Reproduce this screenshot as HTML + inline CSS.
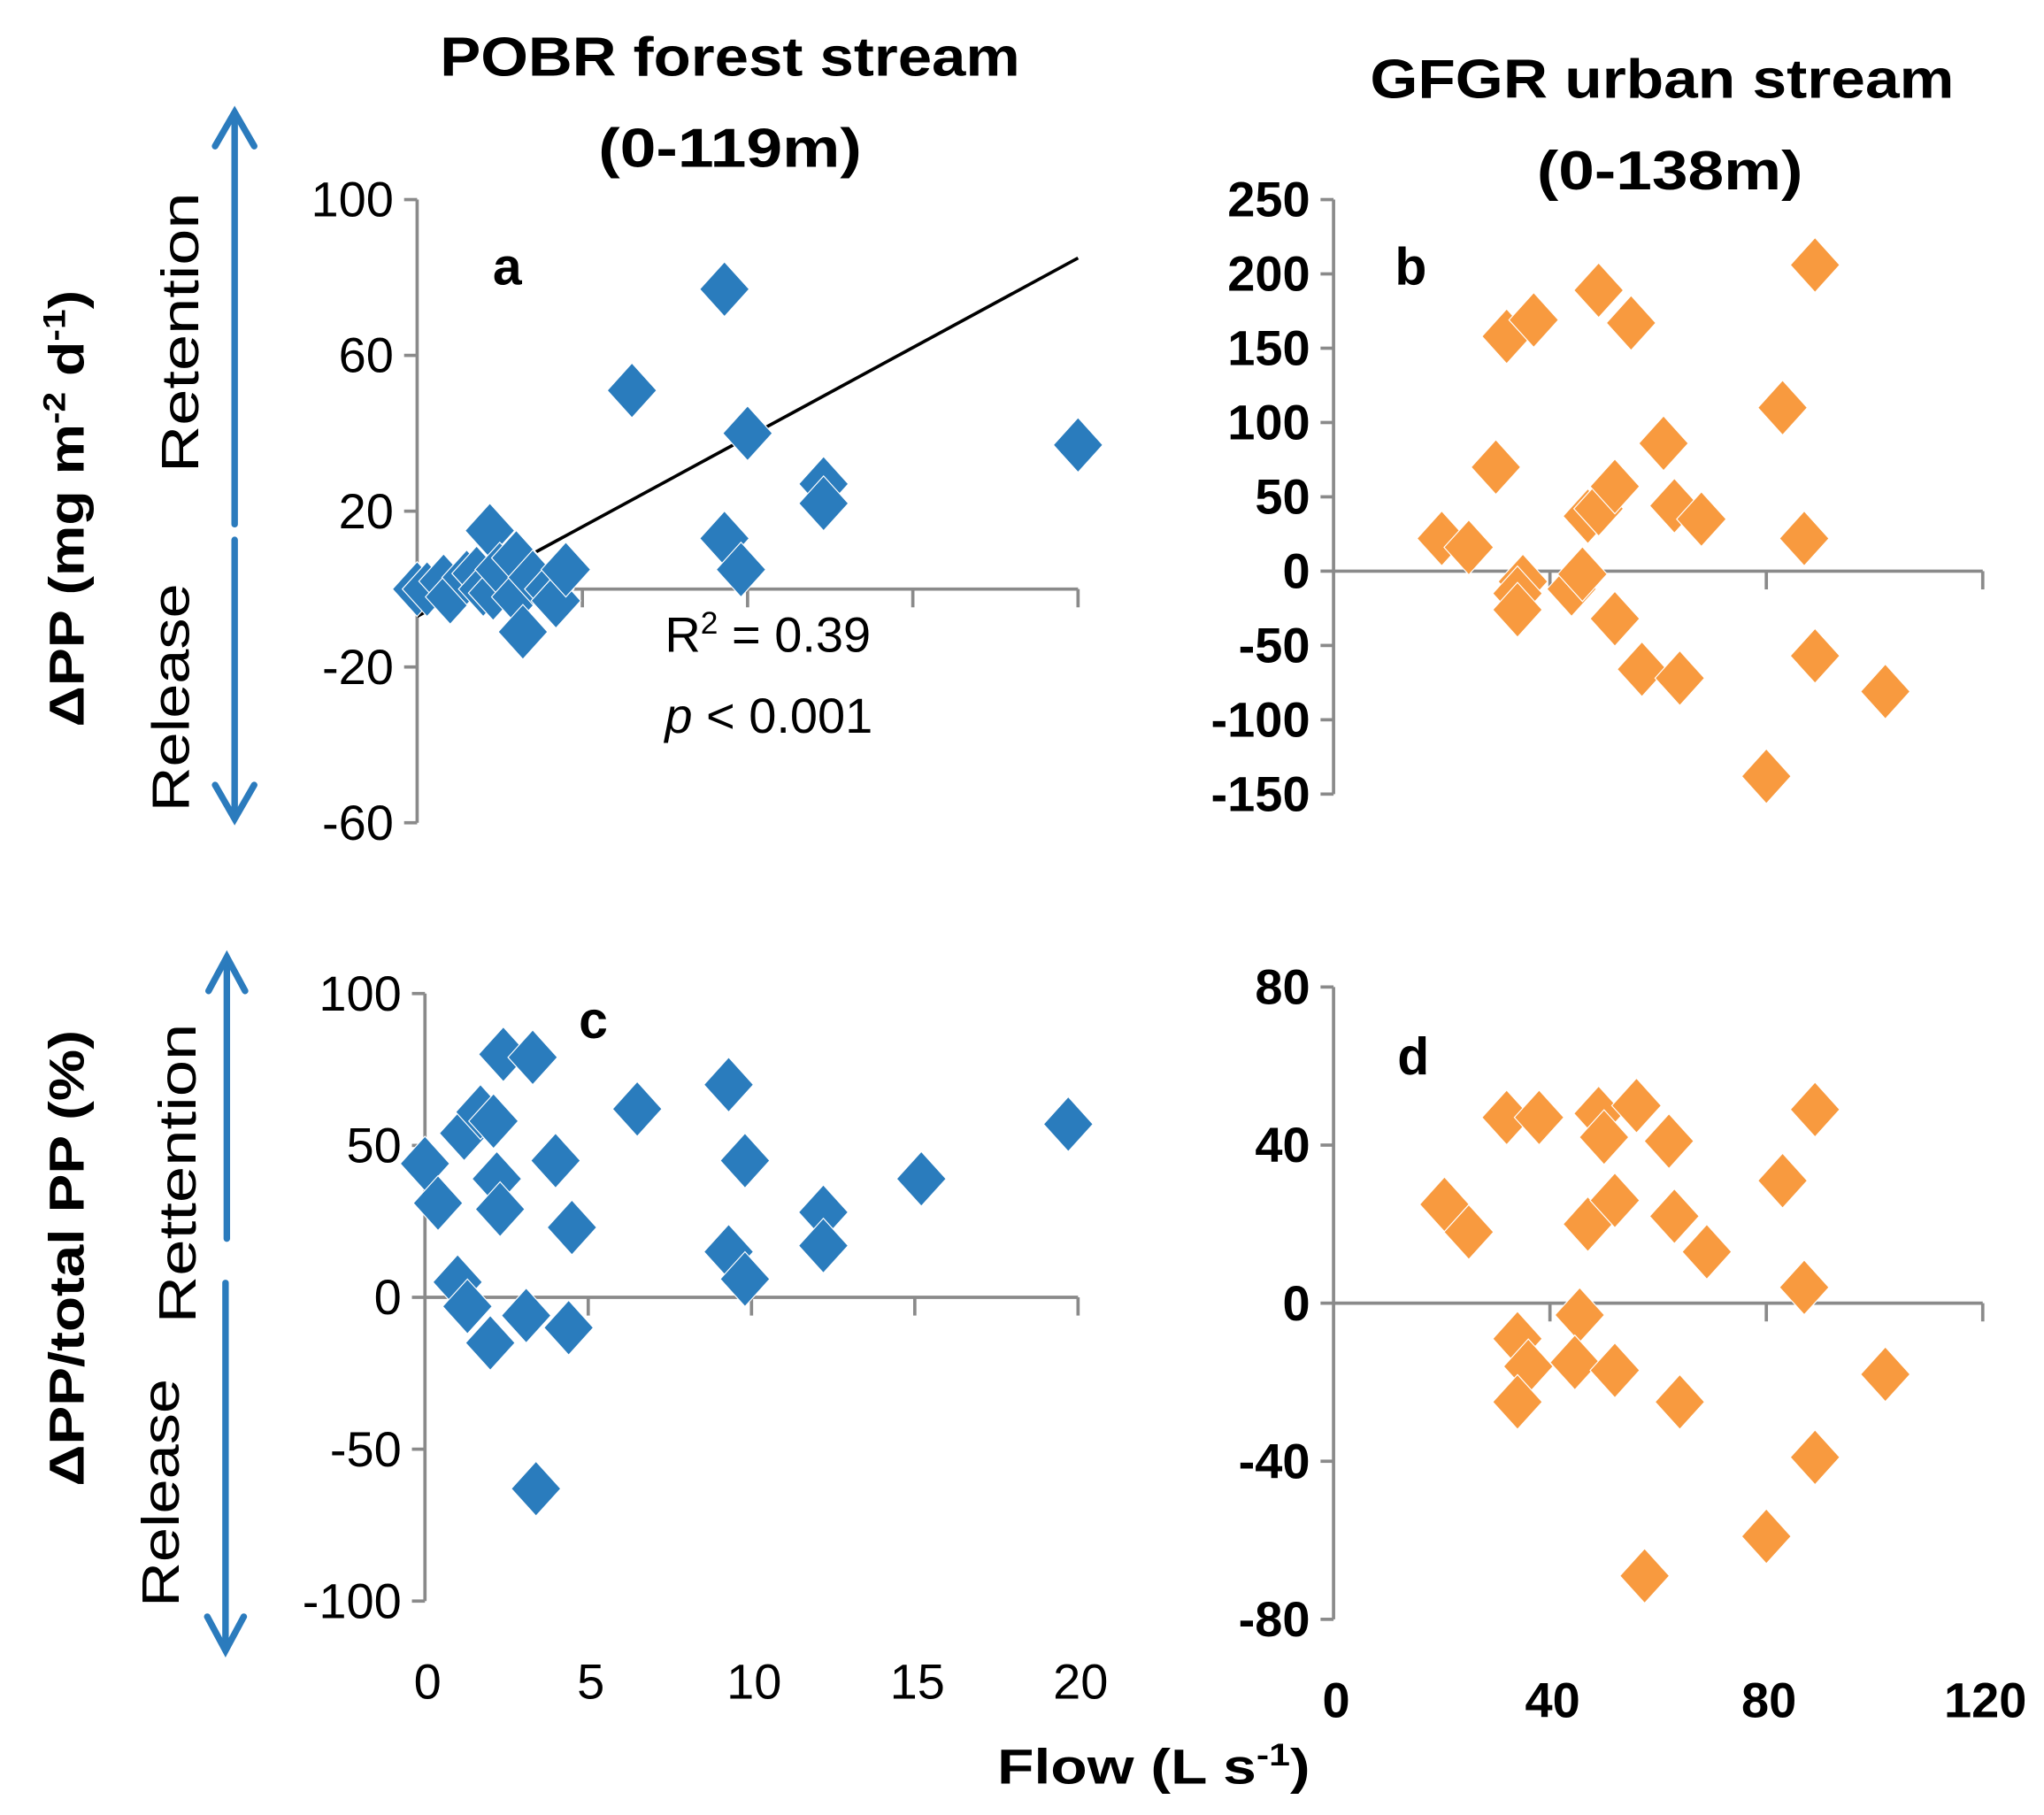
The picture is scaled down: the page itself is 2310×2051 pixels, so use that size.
<!DOCTYPE html>
<html><head><meta charset="utf-8"><style>
html,body{margin:0;padding:0;background:#fff}
svg{display:block}
text{font-family:"Liberation Sans",sans-serif;fill:#000}
</style></head><body>
<svg id="fig" width="2310" height="2051" viewBox="0 0 1568 1392" xmlns="http://www.w3.org/2000/svg">
<g font-weight="bold" font-size="42" text-anchor="middle">
<text x="560" y="58" textLength="445" lengthAdjust="spacingAndGlyphs">POBR forest stream</text>
<text x="560" y="128" textLength="202" lengthAdjust="spacingAndGlyphs">(0-119m)</text>
<text x="1275" y="75" textLength="448" lengthAdjust="spacingAndGlyphs">GFGR urban stream</text>
<text x="1281" y="145" textLength="204" lengthAdjust="spacingAndGlyphs">(0-138m)</text>
</g>
<g stroke="#2b7bbd" stroke-width="5" fill="none" stroke-linecap="round">
<line x1="180" y1="88" x2="180" y2="402"/><line x1="180" y1="414" x2="180" y2="624"/>
<polyline points="165,112 180,86 195,112"/><polyline points="165,602 180,628 195,602"/>
<line x1="174" y1="736" x2="174" y2="950"/><line x1="173" y1="984" x2="173" y2="1262"/>
<polyline points="160,760 174,734 188,760"/><polyline points="159,1240 173,1266 187,1240"/>
</g>
<g font-size="40" text-anchor="middle">
<text transform="translate(152,255) rotate(-90)" textLength="215" lengthAdjust="spacingAndGlyphs">Retention</text>
<text transform="translate(145,535) rotate(-90)" textLength="175" lengthAdjust="spacingAndGlyphs">Release</text>
<text transform="translate(150,900) rotate(-90)" textLength="230" lengthAdjust="spacingAndGlyphs">Rettention</text>
<text transform="translate(137,1145) rotate(-90)" textLength="175" lengthAdjust="spacingAndGlyphs">Release</text>
<text font-weight="bold" font-size="38" transform="translate(64,390) rotate(-90)" textLength="335" lengthAdjust="spacingAndGlyphs">ΔPP (mg m<tspan font-size="24" dy="-14">-2</tspan><tspan dy="14"> d</tspan><tspan font-size="24" dy="-14">-1</tspan><tspan dy="14">)</tspan></text>
<text font-weight="bold" font-size="38" transform="translate(64,965) rotate(-90)" textLength="350" lengthAdjust="spacingAndGlyphs">ΔPP/total PP (%)</text>
<text font-weight="bold" font-size="38" x="885" y="1368" textLength="240" lengthAdjust="spacingAndGlyphs">Flow  (L s<tspan font-size="24" dy="-14">-1</tspan><tspan dy="14">)</tspan></text>
</g>
<g id="plots"></g>
</svg>
<script>
// Panel a data
const aFlow = [9.3,6.5,10,20,12.3,12.3,9.3,9.8,0,0.3,0.8,1,1.5,1.8,2,2.2,2.3,2.5,3,3,3.2,3.5,4,4.2,4.5];
const aDelta = [77,51,40,37,27,22,13,5,0,0,2,-2,3,4,0,15,-1,5,-2,8,-11,3,0,-3,5];
const aTrend = [[0,-7],[20,85]];
const aYTicks = [-60,-20,20,60,100];
const aXTicks = [0,5,10,15,20];
// Panel b data
const bFlow = [20,25,30,32,37,35,34,34,44,46,47,49,52,52,49,55,57,61,63,64,68,83,89,87,89,102,80];
const bDelta = [22,16,70,158,169,-7,-15,-26,-12,-2,37,42,57,-32,189,167,-66,86,44,-72,35,110,206,22,-57,-81,-138];
const bYTicks = [-150,-100,-50,0,50,100,150,200,250];
const bXTicks = [0,40,80,120];
// Panel c data
const cFlow = [0,0.4,1,1.3,2,1.2,1.7,2.1,2.2,2.3,2.4,3.3,3.1,4,4.4,4.5,3.4,6.5,9.3,9.8,9.3,9.8,12.2,12.2,15.2,19.7];
const cPct = [44,31,5,-3,-15,54,61,58,39,29,80,79,-6,45,-10,23,-63,62,70,45,15,6,28,17,39,57];
const cYTicks = [-100,-50,0,50,100];
const cXTicks = [0,5,10,15,20];
// Panel d data
const dFlow = [20.5,25,32,38,34,36,34,45.5,44.6,52,47,49,50,52,56,57.5,62,63,64,69,83,89,87,89,102,80];
const dPct = [25,18,47,47,-9,-16,-25,-3,-15,-17,20,48,42,26,50,-69,41,22,-25,13,31,49,4,-39,-18,-59];
const dYTicks = [-80,-40,0,40,80];
const dXTicks = [0,40,80,120];

const NS='http://www.w3.org/2000/svg';
const plots=document.getElementById('plots');
function mk(tag,attrs,parent){const e=document.createElementNS(NS,tag);for(const k in attrs)e.setAttribute(k,attrs[k]);(parent||plots).appendChild(e);return e;}

function panel(cfg){
  const g=mk('g',{});
  
  
  const sx=v=>cfg.x0+(v-cfg.xmin)/(cfg.xmax-cfg.xmin)*(cfg.x1-cfg.x0);
  const sy=v=>cfg.y0+(v-cfg.ymin)/(cfg.ymax-cfg.ymin)*(cfg.y1-cfg.y0);
  const ax='#8a8a8a';
  const fw=cfg.bold?'bold':'normal';
  const ya=mk('line',{x1:sx(0),x2:sx(0),y1:sy(cfg.ymin),y2:sy(cfg.ymax),stroke:ax,'stroke-width':2.5},g);
  
  
  cfg.yt.forEach(t=>{
    const l=mk('line',{x1:sx(0)-10,x2:sx(0),y1:sy(t),y2:sy(t),stroke:ax,'stroke-width':2.5},g);
    
    
    const tx=mk('text',{x:sx(0)-18,y:sy(t)+13,'font-size':38,'font-weight':fw,'text-anchor':'end'},g);
    
    
    tx.textContent=t;
  });
  const xa=mk('line',{x1:sx(0),x2:sx(cfg.xmax),y1:sy(0),y2:sy(0),stroke:ax,'stroke-width':2.5},g);
  
  
  cfg.xt.forEach(t=>{
    if(t===0)return;
    const l=mk('line',{x1:sx(t),x2:sx(t),y1:sy(0),y2:sy(0)+14,stroke:ax,'stroke-width':2.5},g);
    
    
  });
  if(cfg.xLabelY){
    cfg.xt.forEach(t=>{
      const tx=mk('text',{x:sx(t)+2,y:cfg.xLabelY,'font-size':38,'font-weight':fw,'text-anchor':'middle'},g);
      
      
      tx.textContent=t;
    });
  }
  if(cfg.trend){
    const tl=mk('line',{x1:sx(cfg.trend[0][0]),y1:sy(cfg.trend[0][1]),x2:sx(cfg.trend[1][0]),y2:sy(cfg.trend[1][1]),stroke:'#000','stroke-width':2.5},g);
    
    
  }
  cfg.xs.forEach((xv,i)=>{
    const cx=sx(xv),cy=sy(cfg.ys[i]);
    const p=mk('polygon',{points:`${cx},${cy-21} ${cx+19},${cy} ${cx},${cy+21} ${cx-19},${cy}`,fill:cfg.color,stroke:'#fff','stroke-width':0.8},g);
    
    
  });
  const lb=mk('text',{x:cfg.lab[0],y:cfg.lab[1],'font-size':40,'font-weight':'bold'},g);
  
  
  lb.textContent=cfg.letter;
  return {g,sx,sy};
}
const blue='#2a7cbd', orange='#f89a3f';
panel({name:'panel-a',x0:320,x1:827,xmin:0,xmax:20,y0:631,y1:153,ymin:-60,ymax:100,yt:aYTicks,xt:aXTicks,xs:aFlow,ys:aDelta,color:blue,trend:aTrend,lab:[378,218],letter:'a'});
panel({name:'panel-b',x0:1023,x1:1521,xmin:0,xmax:120,y0:609,y1:153,ymin:-150,ymax:250,yt:bYTicks,xt:bXTicks,xs:bFlow,ys:bDelta,color:orange,lab:[1070,218],letter:'b',bold:true});
panel({name:'panel-c',x0:326,x1:827,xmin:0,xmax:20,y0:1228,y1:762,ymin:-100,ymax:100,yt:cYTicks,xt:cXTicks,xs:cFlow,ys:cPct,color:blue,lab:[444,796],letter:'c',xLabelY:1303});
panel({name:'panel-d',x0:1023,x1:1521,xmin:0,xmax:120,y0:1242,y1:757,ymin:-80,ymax:80,yt:dYTicks,xt:dXTicks,xs:dFlow,ys:dPct,color:orange,lab:[1072,824],letter:'d',xLabelY:1317,bold:true});
const st=mk('text',{x:510,y:500,'font-size':38});


st.innerHTML='R<tspan font-size="24" dy="-14">2</tspan><tspan dy="14"> = 0.39</tspan>';
const pv=mk('text',{x:510,y:562,'font-size':38});


pv.innerHTML='<tspan font-style="italic">p</tspan> &lt; 0.001';
</script>
</body></html>
